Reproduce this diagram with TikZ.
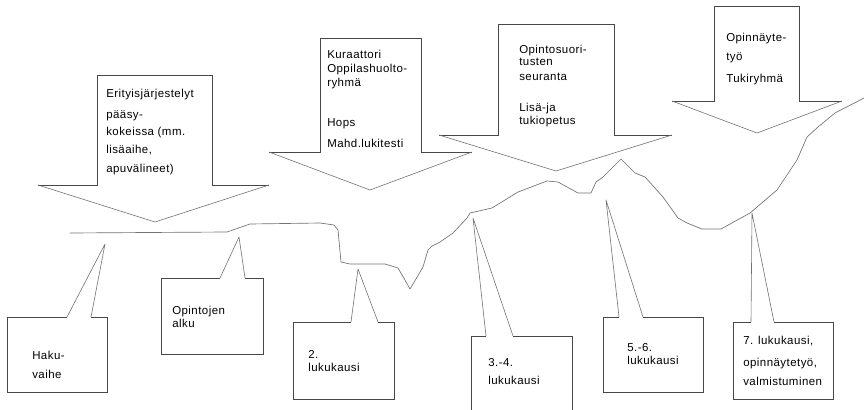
\documentclass[tikz,border=0pt]{standalone}
\usepackage{fontspec}
\setmainfont{Liberation Sans}[LetterSpace=4]
\begin{document}
\begin{tikzpicture}[x=0.75pt,y=-0.75pt,
  dark/.style={draw=black!72,line width=0.7pt,line join=miter},
  thin/.style={draw=black!55,line width=0.45pt,line join=round},
  curve/.style={draw=black!55,line width=0.5pt,line join=round},
  lbl/.style={anchor=base west,inner sep=0pt,font=\fontsize{8.6pt}{10pt}\selectfont,text=black}]
\useasboundingbox (0,0) rectangle (864,410);
\fill[white] (0,0) rectangle (864,410);

% ---------- arrows ----------
% arrow 1
\draw[dark] (38,185) -- (97,185) -- (97,75) -- (212,75) -- (212,185) -- (269,185);
\draw[thin] (269,185) -- (155,222) -- (38,185);
% arrow 2
\draw[dark] (269,152) -- (320,152) -- (320,38) -- (421,38) -- (421,152) -- (472,152);
\draw[thin] (472,152) -- (370,190) -- (269,152);
% arrow 3
\draw[dark] (439,135) -- (498,135) -- (498,24) -- (614,24) -- (614,135) -- (672,135);
\draw[thin] (672,135) -- (556,171) -- (439,135);
% arrow 4
\draw[dark] (672,101) -- (714,101) -- (714,6) -- (799,6) -- (799,101) -- (842,101);
\draw[thin] (842,101) -- (757,133) -- (672,101);

% ---------- curve ----------
\draw[curve] (70,233) -- (227,232) -- (250,224) -- (320,223) -- (334,225) -- (338,230)
  -- (341,262) -- (350,264) -- (385,264) -- (398,268) -- (405,280) -- (410,289)
  -- (416,279) -- (423,267) -- (428,250) -- (432,246) -- (440,242) -- (453,233)
  -- (467,218) -- (470,213) -- (492,208) -- (518,192) -- (547,181) -- (558,182)
  -- (578,193) -- (591,193) -- (596,182) -- (603,177) -- (621,159) -- (635,173)
  -- (645,177) -- (663,197) -- (678,218) -- (687,223) -- (702,229) -- (721,229)
  -- (750,213) -- (777,190) -- (797,160) -- (807,137) -- (818,127) -- (835,113)
  -- (864,98);

% ---------- callouts ----------
% B1
\draw[dark] (67,317) -- (7,317) -- (7,392) -- (107,392) -- (107,317) -- (91,317);
\draw[thin] (67,317) -- (105,244) -- (91,317);
% B2
\draw[dark] (220,278) -- (161,278) -- (161,354) -- (263,354) -- (263,278) -- (245,278);
\draw[thin] (220,278) -- (239,237) -- (245,278);
% B3
\draw[dark] (351,322) -- (293,322) -- (293,399) -- (394,399) -- (394,322) -- (378,322);
\draw[thin] (351,322) -- (358,269) -- (378,322);
% B4
\draw[dark] (486,336) -- (471,336) -- (471,412);
\draw[dark] (513,336) -- (572,336) -- (572,412);
\draw[thin] (486,336) -- (473,218) -- (513,336);
% B5
\draw[dark] (619,317) -- (603,317) -- (603,392) -- (703,392) -- (703,317) -- (643,317);
\draw[thin] (619,317) -- (606,200) -- (643,317);
% B6
\draw[dark] (751,322) -- (733,322) -- (733,399) -- (833,399) -- (833,322) -- (774,322);
\draw[thin] (751,322) -- (752,213) -- (774,322);

% ---------- texts ----------
\node[lbl] (a1a) at (106,98) {Erityisjärjestelyt};
\node[lbl] (a1b) at (106,118) {pääsy-};
\node[lbl] (a1c) at (106,135) {kokeissa (mm.};
\node[lbl] (a1d) at (106,153) {lisäaihe,};
\node[lbl] (a1e) at (106,172) {apuvälineet)};

\node[lbl] (a2a) at (327,59) {Kuraattori};
\node[lbl] (a2b) at (327,73) {Oppilashuolto-};
\node[lbl] (a2c) at (327,87) {ryhmä};
\node[lbl] (a2d) at (327,127) {Hops};
\node[lbl] (a2e) at (327,147) {Mahd.lukitesti};

\node[lbl] (a3a) at (519,54) {Opintosuori-};
\node[lbl] (a3b) at (519,66) {tusten};
\node[lbl] (a3c) at (519,80) {seuranta};
\node[lbl] (a3d) at (519,112) {Lisä-ja};
\node[lbl] (a3e) at (519,124) {tukiopetus};

\node[lbl] (a4a) at (726,42) {Opinnäyte-};
\node[lbl] (a4b) at (726,61) {työ};
\node[lbl] (a4c) at (726,83) {Tukiryhmä};

\node[lbl] (b1a) at (32,359) {Haku-};
\node[lbl] (b1b) at (32,378) {vaihe};

\node[lbl] (b2a) at (172,314) {Opintojen};
\node[lbl] (b2b) at (172,327) {alku};

\node[lbl] (b3a) at (308,358) {2.};
\node[lbl] (b3b) at (308,371) {lukukausi};

\node[lbl] (b4a) at (488,366) {3.-4.};
\node[lbl] (b4b) at (488,384) {lukukausi};

\node[lbl] (b5a) at (627,351) {5.-6.};
\node[lbl] (b5b) at (627,364) {lukukausi};

\node[lbl] (b6a) at (743,344) {7. lukukausi,};
\node[lbl] (b6b) at (743,366) {opinnäytetyö,};
\node[lbl] (b6c) at (743,385) {valmistuminen};
\end{tikzpicture}
\end{document}
